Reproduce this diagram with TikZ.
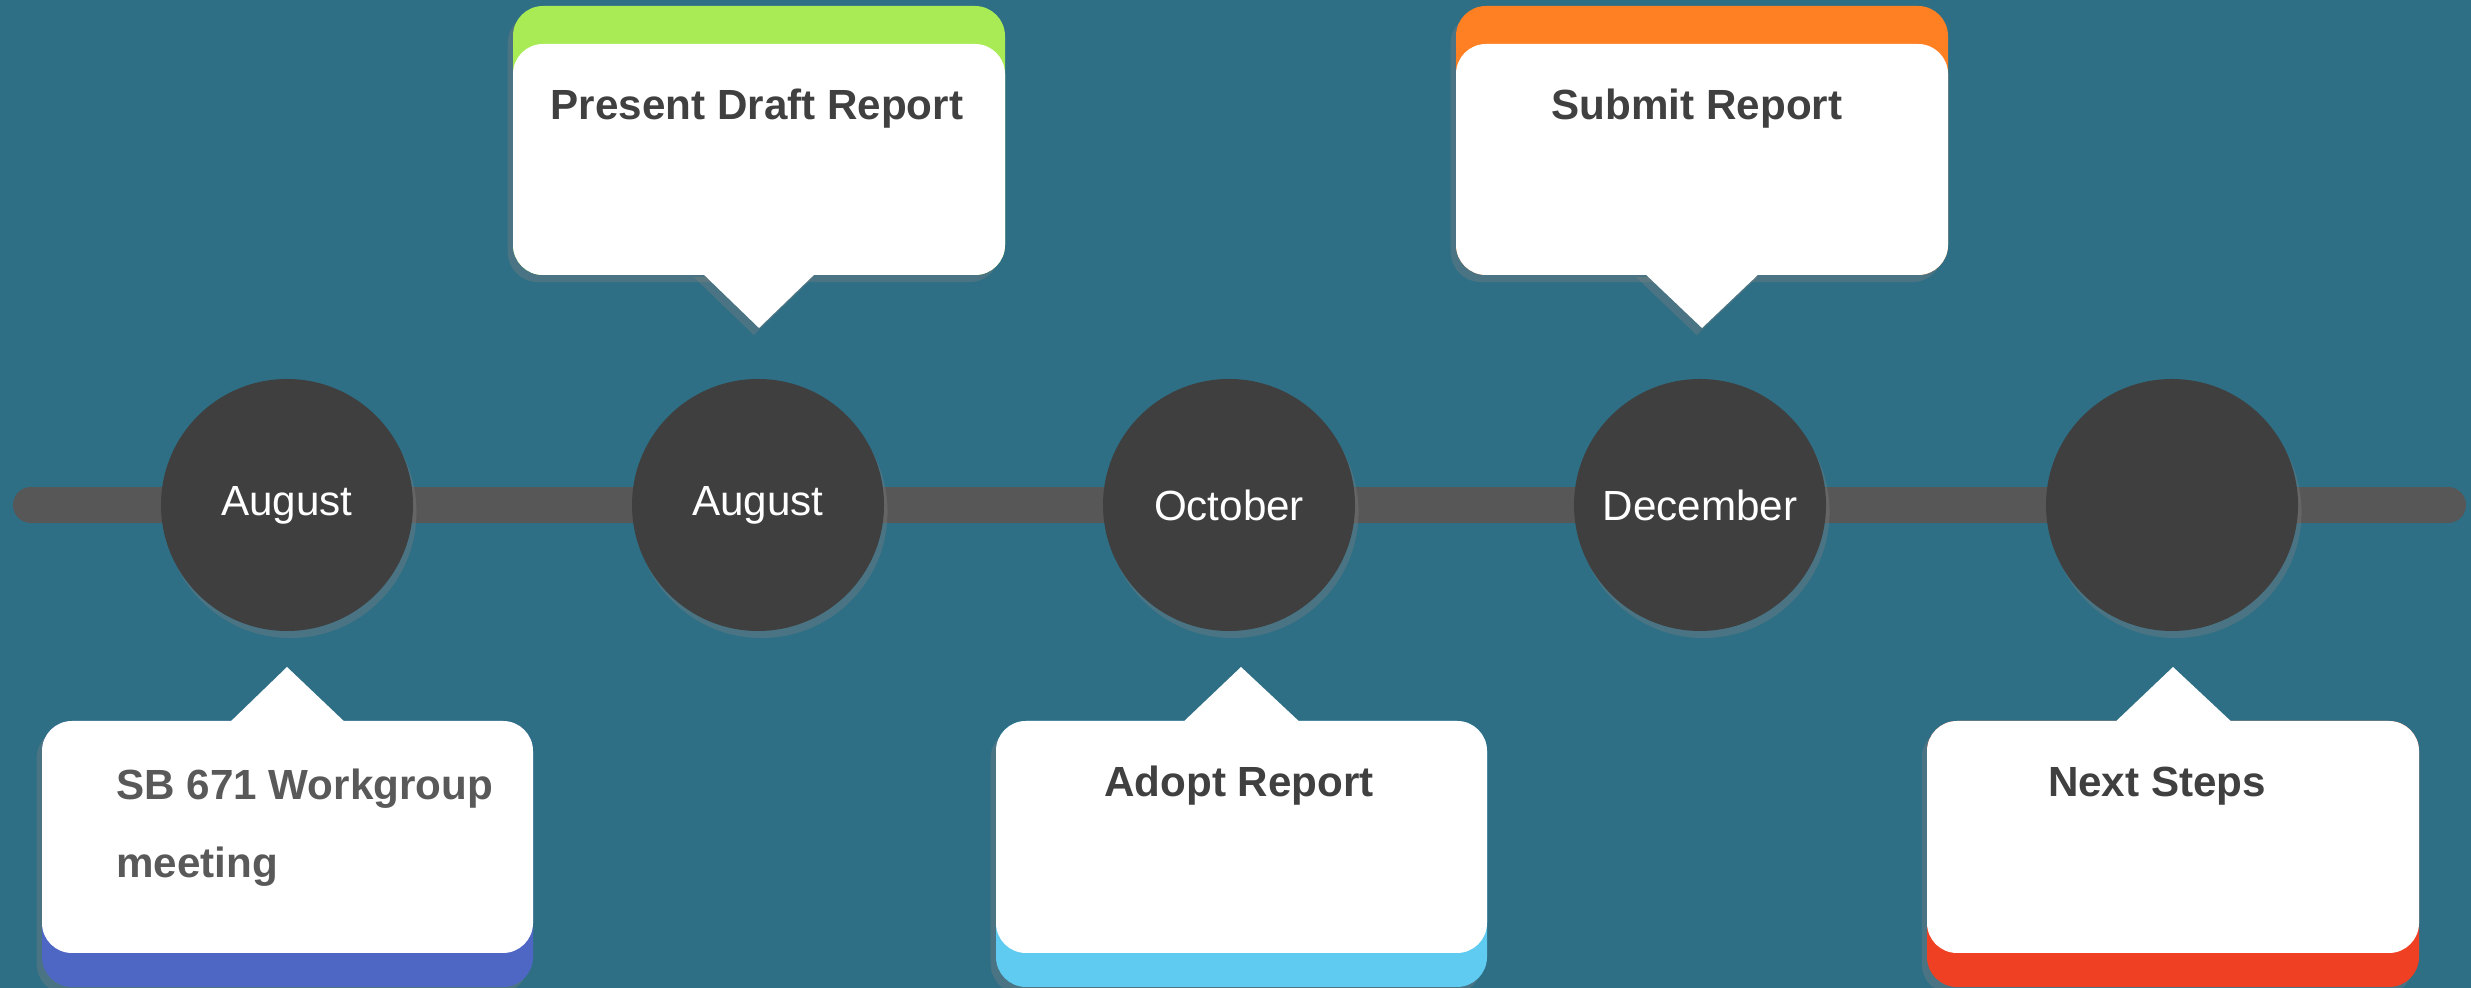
\documentclass[tikz,border=0pt]{standalone}
\usepackage{fontspec}
\setmainfont{Liberation Sans}
\usetikzlibrary{positioning,shadows}
\definecolor{teal700}{HTML}{2E6F85}
\definecolor{gray800}{HTML}{3F3F3F}
\definecolor{gray600}{HTML}{575757}
\definecolor{ink700}{HTML}{404040}
\definecolor{ink500}{HTML}{595959}
\definecolor{indigo500}{HTML}{4F67C4}
\definecolor{lime400}{HTML}{A8EB55}
\definecolor{sky400}{HTML}{5FCBF0}
\definecolor{orange500}{HTML}{FF8022}
\definecolor{red500}{HTML}{EF4023}
\tikzset{
  every node/.style={font=\fontsize{12}{20.5}\selectfont},
  month/.style={
    circle, fill=gray800, text=white,
    minimum size=2.52cm, inner sep=0pt,
    drop shadow={opacity=0.35, shadow xshift=1pt, shadow yshift=-2pt}
  },
  band/.style={
    rounded corners=0.3cm,
    drop shadow={opacity=0.35, shadow xshift=-1.5pt, shadow yshift=-2pt}
  },
  card/.style={fill=white, rounded corners=0.3cm},
  beak/.style={
    fill=white,
    drop shadow={opacity=0.35, shadow xshift=-1.5pt, shadow yshift=-2pt}
  },
  title/.style={
    font=\fontsize{12}{20.5}\selectfont\bfseries,
    text=ink700, anchor=base
  },
}

\begin{document}
\begin{tikzpicture}
  \fill[teal700] (0,0) rectangle (24.71,9.88);
  \useasboundingbox (0,0) rectangle (24.71,9.88);
  % timeline bar
  \coordinate (start) at (0.31,4.83);
  \coordinate (end) at (24.48,4.83);
  \draw[gray600, line width=0.36cm, line cap=round] (start) -- (end);
  % top callouts
  \fill[lime400, band] (5.13,7.13) rectangle (10.05,9.82);
  \fill[beak] (6.99,7.18) -- (7.59,6.60) -- (8.19,7.18) -- cycle;
  \fill[card] (5.13,7.13) rectangle (10.05,9.44);
  \node[title] (draft) at (7.57,8.68) {Present Draft Report};
  \fill[orange500, band] (14.56,7.13) rectangle (19.48,9.82);
  \fill[beak] (16.41,7.18) -- (17.02,6.60) -- (17.63,7.18) -- cycle;
  \fill[card] (14.56,7.13) rectangle (19.48,9.44);
  \node[title] (submit) at (16.97,8.68) {Submit Report};
  % bottom callouts
  \fill[indigo500, band] (0.42,0.01) rectangle (5.33,2.67);
  \fill[beak] (2.26,2.62) -- (2.87,3.21) -- (3.49,2.62) -- cycle;
  \fill[card] (0.42,0.35) rectangle (5.33,2.67);
  \node[title, text=ink500, anchor=base west, align=left,
        font=\fontsize{12}{22.4}\selectfont\bfseries] (meeting) at (1.04,1.10) {SB 671 Workgroup\\meeting};
  \fill[sky400, band] (9.96,0.01) rectangle (14.87,2.67);
  \fill[beak] (11.79,2.62) -- (12.41,3.21) -- (13.04,2.62) -- cycle;
  \fill[card] (9.96,0.35) rectangle (14.87,2.67);
  \node[title] (adopt) at (12.39,1.91) {Adopt Report};
  \fill[red500, band] (19.27,0.01) rectangle (24.19,2.67);
  \fill[beak] (21.11,2.62) -- (21.73,3.21) -- (22.36,2.62) -- cycle;
  \fill[card] (19.27,0.35) rectangle (24.19,2.67);
  \node[title] (next) at (21.57,1.91) {Next Steps};
  % months
  \node[month] (aug1) at (2.87,4.83) {August};
  \node[month] (aug2) at (7.58,4.83) {August};
  \node[month] (oct) at (12.29,4.83) {October};
  \node[month] (dec) at (17.00,4.83) {December};
  \node[month] (last) at (21.72,4.83) {};
\end{tikzpicture}
\end{document}
